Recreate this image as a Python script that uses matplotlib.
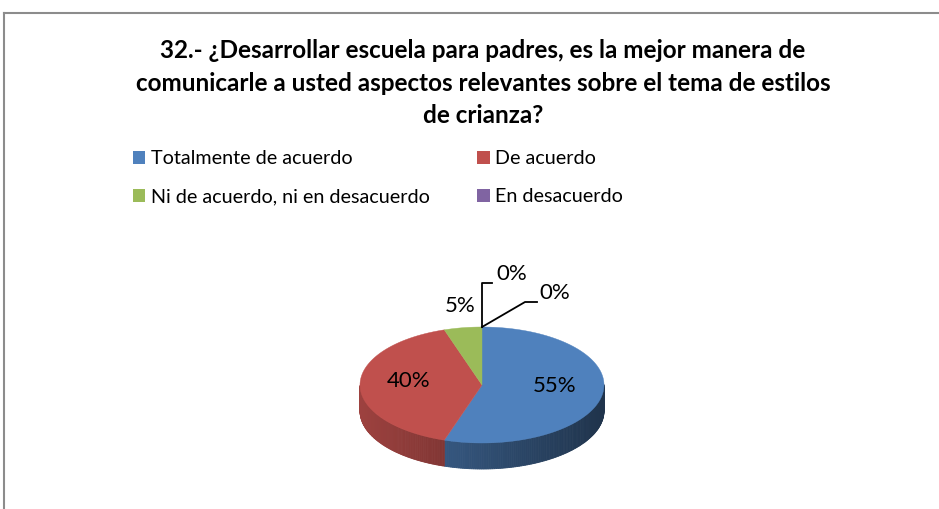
import numpy as np
import matplotlib
matplotlib.use("Agg")
from matplotlib import pyplot as plt
from matplotlib.patches import Polygon, Patch
import matplotlib.colors as mcolors

plt.rcParams['font.family'] = ['Lato', 'DejaVu Sans']

title = ("32.- ¿Desarrollar escuela para padres, es la mejor manera de\n"
         "comunicarle a usted aspectos relevantes sobre el tema de estilos\n"
         "de crianza?")
categories = ["Totalmente de acuerdo", "De acuerdo", "Ni de acuerdo, ni en desacuerdo",
              "En desacuerdo", "Totalmente en desacuerdo"]
values = [55, 40, 5, 0, 0]
colors = ["#4f81bd", "#c0504d", "#9bbb59", "#8064a2", "#4bacc6"]

W, H = 939, 509
fig = plt.figure(figsize=(W / 100, H / 100), dpi=100)
ax = fig.add_axes([0, 0, 1, 1])
ax.set_xlim(0, W)
ax.set_ylim(H, 0)
ax.axis("off")

# chart frame (only top and left visible in the crop)
ax.plot([3.5, W], [12.5, 12.5], color="#8c8c8c", lw=1.5)
ax.plot([3.5, 3.5], [12.5, H], color="#8c8c8c", lw=1.5)

ax.text(483, 83, title, ha="center", va="center", fontsize=17.5, fontweight="bold",
        linespacing=1.5, color="black")

# 3D pie geometry
cx, cy, a, b, depth = 482, 385, 122, 58, 26
total = sum(values)
angles = [90]
for v in values:
    angles.append(angles[-1] - 360 * v / total)


def pt(t, dy=0):
    r = np.radians(t)
    return cx + a * np.cos(r), cy - b * np.sin(r) + dy


def shade(c, f):
    rgb = np.array(mcolors.to_rgb(c))
    return tuple(np.clip(rgb * f, 0, 1))


# sides (front half only)
for i, v in enumerate(values):
    if v == 0:
        continue
    t1, t0 = angles[i], angles[i + 1]
    ts = np.linspace(t0, t1, 200)
    for k in range(len(ts) - 1):
        ta, tb = ts[k], ts[k + 1]
        if np.sin(np.radians((ta + tb) / 2)) >= 0:
            continue
        xa, ya = pt(ta)
        xb, yb = pt(tb)
        u = ((xa + xb) / 2 - (cx - a)) / (2 * a)
        f = 0.82 - 0.42 * u
        ax.add_patch(Polygon([(xa, ya), (xb, yb), (xb, yb + depth), (xa, ya + depth)],
                             closed=True, facecolor=shade(colors[i], f),
                             edgecolor=shade(colors[i], f), lw=0.6))

# top faces
for i, v in enumerate(values):
    if v == 0:
        continue
    ts = np.linspace(angles[i + 1], angles[i], 200)
    verts = [(cx, cy)] + [pt(t) for t in ts]
    ax.add_patch(Polygon(verts, closed=True, facecolor=colors[i], edgecolor=colors[i], lw=0.3))

# data labels
for i, v in enumerate(values):
    mid = (angles[i] + angles[i + 1]) / 2
    lbl = f"{v}%"
    if v >= 20:
        x, y = cx + 0.6 * a * np.cos(np.radians(mid)), cy - 0.6 * b * np.sin(np.radians(mid)) - 4
        ax.text(x, y, lbl, ha="center", va="center", fontsize=16)
    elif v > 0:
        x, y = cx + 1.15 * a * np.cos(np.radians(mid)), cy - 1.38 * b * np.sin(np.radians(mid))
        ax.text(x, y, lbl, ha="center", va="center", fontsize=16)

# zero-value labels with leader lines
x0, y0 = pt(angles[3])
ax.plot([x0, x0, x0 + 10], [y0, y0 - 44, y0 - 44], color="black", lw=1.3)
ax.text(x0 + 30, y0 - 53, "0%", ha="center", va="center", fontsize=16)
ax.plot([x0, x0 + 43, x0 + 55], [y0, y0 - 25, y0 - 25], color="black", lw=1.3)
ax.text(x0 + 73, y0 - 34, "0%", ha="center", va="center", fontsize=16)

# legend in row order (matplotlib fills column by column)
order = [0, 2, 1, 3]
handles = [Patch(facecolor=colors[i], edgecolor="none") for i in order]
ax.legend(handles, [categories[i] for i in order], ncol=2, loc="upper left",
          bbox_to_anchor=(133 / W, 1 - 150.5 / H),
          frameon=False, fontsize=14.2, handlelength=0.62, handleheight=0.62, handletextpad=0.3,
          columnspacing=2.4, labelspacing=1.05, borderaxespad=0, borderpad=0)

fig.savefig("out.png", dpi=100)
